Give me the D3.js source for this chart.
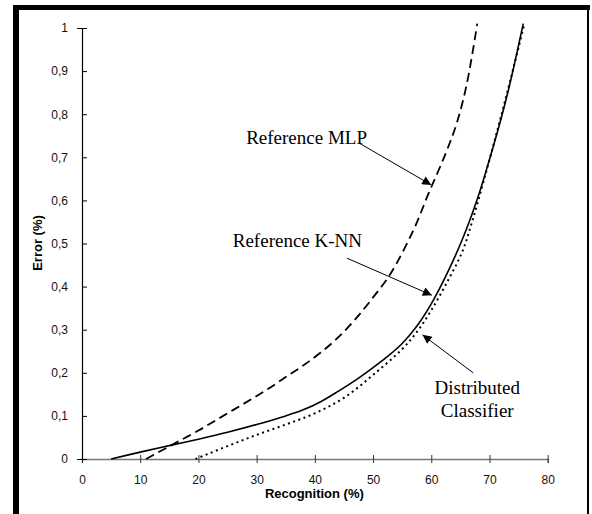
<!DOCTYPE html>
<html>
<head>
<meta charset="utf-8">
<script src="https://cdn.jsdelivr.net/npm/d3@7"></script>
<style>
  body { margin: 0; background: #fff; }
  svg { display: block; }
</style>
</head>
<body>
<div id="chart"></div>
<script>
// curves: [recognition %, error %]
var knnData = [[5,0],[10,0.016],[15,0.031],[20,0.046],[25,0.062],[30,0.08],[35,0.1],[38,0.114],[41,0.133],[44,0.157],[47,0.183],[50,0.212],[52.5,0.238],[55,0.268],[57.5,0.308],[60,0.36],[62.7,0.43],[65.5,0.515],[68.2,0.615],[70,0.695],[71.8,0.78],[73.5,0.87],[75.8,1.01]];
var mlpData = [[11,0],[14,0.022],[17,0.044],[20,0.066],[23,0.09],[26,0.114],[29,0.138],[32,0.163],[35,0.19],[38,0.217],[41,0.247],[44,0.282],[47,0.325],[50,0.375],[53,0.43],[56.9,0.53],[59.5,0.615],[62.5,0.71],[64.4,0.78],[66.1,0.87],[67.9,1.01]];
var distData = [[19.5,0],[25,0.03],[30,0.056],[35,0.08],[40,0.106],[45,0.142],[50,0.195],[55,0.255],[57.6,0.296],[60,0.345],[62.7,0.41],[65.3,0.48],[67,0.55],[69,0.645],[71.3,0.76],[73.6,0.88],[76,1.01]];

var xTicks = [0,10,20,30,40,50,60,70,80];
var yTicks = [0,0.1,0.2,0.3,0.4,0.5,0.6,0.7,0.8,0.9,1];

// annotations: label, text anchor point, arrow from -> to (data units)
var notes = [
  {lines: ["Reference MLP"], x: 28.2, y: 0.732, anchor: "start", from: [47.6,0.733], to: [60.0,0.636]},
  {lines: ["Reference K-NN"], x: 25.9, y: 0.492, anchor: "start", from: [45.5,0.466], to: [60.1,0.38]},
  {lines: ["Distributed", "Classifier"], x: 67.9, y: 0.151, anchor: "middle", from: [67.2,0.2], to: [58.5,0.288]}
];

var W = 592, H = 514;
var margin = {top: 28, right: 44, bottom: 55, left: 82},
    width = 547.7 - margin.left,
    height = 459 - margin.top;

var svg = d3.select("#chart").append("svg")
    .attr("width", W)
    .attr("height", H);

// frame (heavy left/top, thin right)
svg.append("rect").attr("x", 13).attr("y", 5).attr("width", 6).attr("height", H - 5).attr("fill", "#000");
svg.append("rect").attr("x", 13).attr("y", 5).attr("width", 577).attr("height", 5).attr("fill", "#000");
svg.append("rect").attr("x", 587).attr("y", 5).attr("width", 2).attr("height", H - 5).attr("fill", "#000");

svg.append("defs").append("marker")
    .attr("id", "head")
    .attr("viewBox", "0 0 10 10")
    .attr("refX", 10).attr("refY", 5)
    .attr("markerWidth", 12).attr("markerHeight", 9)
    .attr("markerUnits", "userSpaceOnUse")
    .attr("orient", "auto")
  .append("path")
    .attr("d", "M0,0L10,5L0,10Z")
    .attr("fill", "#000");

var g = svg.append("g")
    .attr("transform", "translate(" + margin.left + "," + margin.top + ")");

var x = d3.scaleLinear().domain([0, 80]).range([0, width]);
var y = d3.scaleLinear().domain([0, 1]).range([height, 0]);

var fmt = function(d) { return d === 0 || d === 1 ? String(d) : d3.format(".1f")(d).replace(".", ","); };

var xAxis = g.append("g")
    .attr("transform", "translate(0," + height + ")")
    .call(d3.axisBottom(x).tickValues(xTicks).tickSize(4).tickPadding(12).tickFormat(d3.format("d")));
xAxis.select(".domain").attr("stroke", "#777").attr("stroke-width", 1.5);
xAxis.selectAll(".tick line").attr("y1", -4).attr("stroke", "#333");

var yAxis = g.append("g")
    .call(d3.axisLeft(y).tickValues(yTicks).tickSize(5).tickPadding(9).tickFormat(fmt));
yAxis.select(".domain").attr("stroke-width", 1.2);
yAxis.selectAll(".tick line").attr("x2", 5);

g.selectAll(".tick text")
    .attr("font-family", "Liberation Sans, Arial, sans-serif")
    .attr("font-size", 12)
    .attr("fill", "#111");

var line = d3.line()
    .x(function(d) { return x(d[0]); })
    .y(function(d) { return y(d[1]); })
    .curve(d3.curveCatmullRom.alpha(0.5));

g.append("path").datum(mlpData)
    .attr("d", line).attr("fill", "none").attr("stroke", "#000")
    .attr("stroke-width", 1.8).attr("stroke-dasharray", "9,5");
g.append("path").datum(distData)
    .attr("d", line).attr("fill", "none").attr("stroke", "#000")
    .attr("stroke-width", 2).attr("stroke-dasharray", "2,3.5");
g.append("path").datum(knnData)
    .attr("d", line).attr("fill", "none").attr("stroke", "#000")
    .attr("stroke-width", 1.6);

// annotations
notes.forEach(function(n) {
  var t = g.append("text")
      .attr("x", x(n.x)).attr("y", y(n.y))
      .attr("text-anchor", n.anchor)
      .attr("font-family", "Liberation Serif, Times New Roman, serif")
      .attr("font-size", 19);
  n.lines.forEach(function(s, i) {
    t.append("tspan").attr("x", x(n.x)).attr("dy", i === 0 ? 0 : 23).text(s);
  });
  g.append("line")
      .attr("x1", x(n.from[0])).attr("y1", y(n.from[1]))
      .attr("x2", x(n.to[0])).attr("y2", y(n.to[1]))
      .attr("stroke", "#000").attr("stroke-width", 1)
      .attr("marker-end", "url(#head)");
});

// axis titles
g.append("text")
    .attr("x", width / 2 - 0.5).attr("y", height + 39)
    .attr("text-anchor", "middle")
    .attr("font-family", "Liberation Sans, Arial, sans-serif")
    .attr("font-size", 13).attr("font-weight", "bold")
    .text("Recognition (%)");

g.append("text")
    .attr("transform", "translate(" + (-40) + "," + (243 - margin.top) + ") rotate(-90)")
    .attr("text-anchor", "middle")
    .attr("font-family", "Liberation Sans, Arial, sans-serif")
    .attr("font-size", 13).attr("font-weight", "bold")
    .text("Error (%)");
</script>
</body>
</html>
